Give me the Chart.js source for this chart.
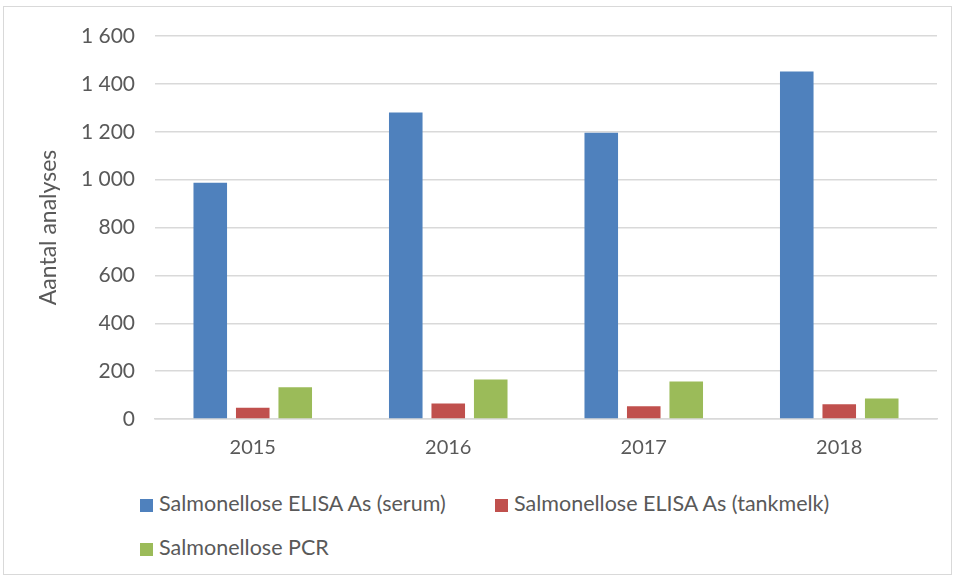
<!DOCTYPE html>
<html>
<head>
<meta charset="utf-8">
<script src="https://cdn.jsdelivr.net/npm/chart.js@4/dist/chart.umd.min.js"></script>
<style>
  body { margin: 0; background: #fff; font-family: Lato, 'Open Sans', sans-serif; }
  #frame { position: absolute; left: 3px; top: 6px; width: 947px; height: 567px; border: 1px solid #d9d9d9; }
  #wrap { position: absolute; left: 0; top: 0; width: 954px; height: 489px; }
  #legend { position: absolute; left: 140px; top: 490px; width: 800px; color: #595959; font-size: 21.5px; }
  .item { position: absolute; white-space: nowrap; line-height: 26px; }
  .box { display: inline-block; width: 13px; height: 13px; margin-right: 6px; vertical-align: -1px; }
</style>
</head>
<body>
<div id="frame"></div>
<div id="wrap"><canvas id="chart1"></canvas></div>
<div id="legend"></div>
<script>
var years = ['2015', '2016', '2017', '2018'];
var serum = [987, 1280, 1196, 1452];
var tankmelk = [47, 65, 53, 62];
var pcr = [133, 165, 157, 86];
var seriesNames = ['Salmonellose ELISA As (serum)', 'Salmonellose ELISA As (tankmelk)', 'Salmonellose PCR'];
var colors = ['#4f81bd', '#c0504d', '#9bbb59'];

var datos = {
    labels: years,
    datasets: [
        { label: seriesNames[0], data: serum, backgroundColor: colors[0] },
        { label: seriesNames[1], data: tankmelk, backgroundColor: colors[1] },
        { label: seriesNames[2], data: pcr, backgroundColor: colors[2] }
    ]
};

var ctx = document.getElementById('chart1').getContext('2d');

window.bar = new Chart(ctx, {
    type: 'bar',
    data: datos,
    options: {
        responsive: true,
        maintainAspectRatio: false,
        animation: false,
        categoryPercentage: 0.652,
        barPercentage: 0.79,
        layout: {
            padding: { left: 0, right: 17, top: 36, bottom: 20 }
        },
        plugins: {
            legend: { display: false }, // own legend below
            tooltip: { enabled: false }
        },
        scales: {
            x: {
                grid: { display: false },
                border: { color: '#d9d9d9', width: 1.5 },
                ticks: { color: '#595959', font: { family: 'Lato', size: 20 }, padding: 9 }
            },
            y: {
                min: 0,
                max: 1600,
                afterFit: function (scale) { scale.width = 155; },
                border: { display: false },
                grid: { color: '#d9d9d9', lineWidth: 1.5, drawTicks: false },
                ticks: {
                    stepSize: 200,
                    padding: 20,
                    color: '#595959',
                    font: { family: 'Lato', size: 21 },
                    callback: function (v) {
                        return String(v).replace(/\B(?=(\d{3})+(?!\d))/g, ' ');
                    }
                },
                title: {
                    display: true,
                    text: 'Aantal analyses',
                    color: '#595959',
                    font: { family: 'Lato', size: 23 },
                    padding: { top: 35, bottom: 0 }
                }
            }
        }
    }
});

// legend rows like the original
var legendPos = [[0, 0], [355, 0], [0, 44]];
var legend = document.getElementById('legend');
seriesNames.forEach(function (name, i) {
    var d = document.createElement('div');
    d.className = 'item';
    d.style.left = legendPos[i][0] + 'px';
    d.style.top = legendPos[i][1] + 'px';
    d.innerHTML = '<span class="box" style="background:' + colors[i] + '"></span>' + name;
    legend.appendChild(d);
});
</script>
</body>
</html>
